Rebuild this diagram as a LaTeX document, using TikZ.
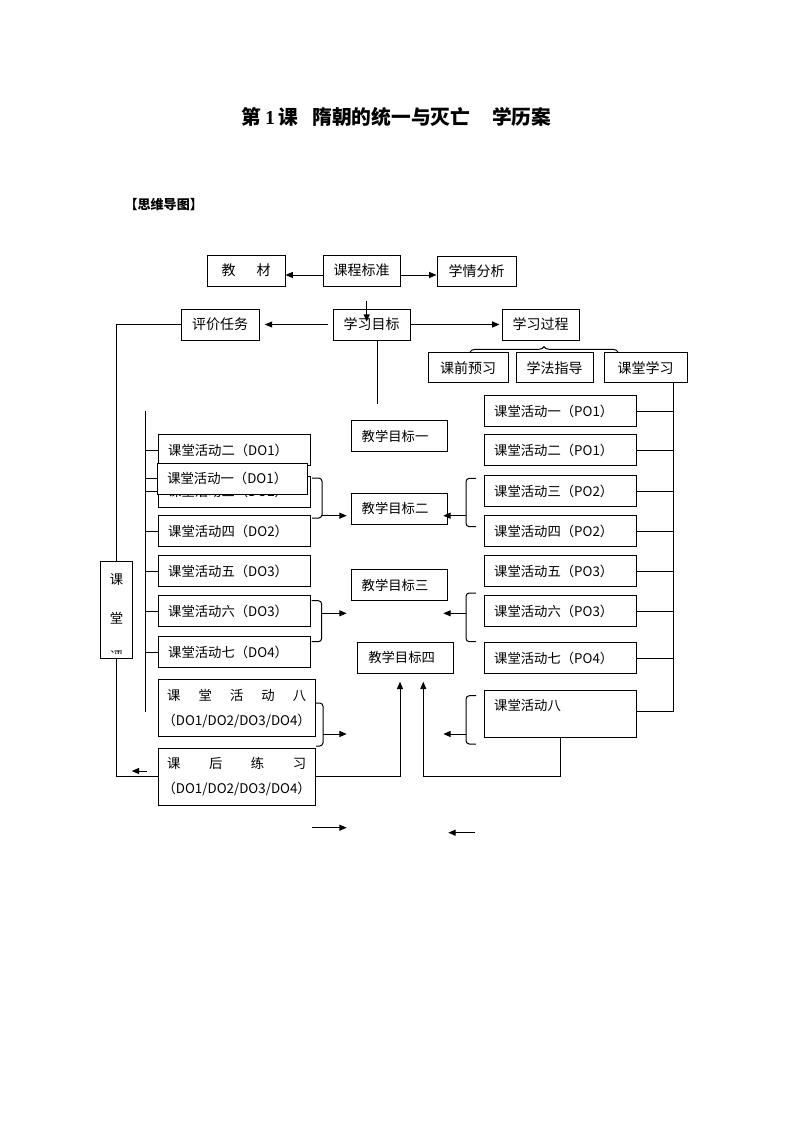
\documentclass[tikz,border=0pt]{standalone}
\usepackage{fontspec}
\newfontfamily\cjk{Noto Sans CJK SC}
\newfontfamily\serif{Liberation Serif}
\usetikzlibrary{arrows.meta,decorations.pathreplacing,calc}
\begin{document}
\begin{tikzpicture}[x=0.75pt,y=-0.75pt,
  line width=0.75pt,
  arr/.style={-{Triangle[length=5.5pt,width=4.5pt]}},
  tbox/.style={draw, fill=white, inner sep=0pt, minimum height=23.25pt, font=\cjk\fontsize{10.5}{12}\selectfont},
  abox/.style={draw, fill=white, inner xsep=7.5pt, inner ysep=0pt, text width=99pt, align=left, minimum height=23.25pt, font=\cjk\fontsize{10}{12}\selectfont},
  gbox/.style={draw, fill=white, inner xsep=7.5pt, inner ysep=0pt, text width=56.7pt, align=left, minimum height=23.25pt, font=\cjk\fontsize{10}{12}\selectfont},
  wbox/.style={draw, fill=white, inner xsep=6.75pt, inner ysep=0pt, text width=104.25pt, align=left, minimum height=42.75pt, font=\cjk\fontsize{10}{19}\selectfont},
  brk/.style={rounded corners=2.5pt},
  txt/.style={inner sep=0pt, font=\cjk\fontsize{10}{12}\selectfont}]
\useasboundingbox (0,0) rectangle (794,1123);

% titles
\node[inner sep=0pt, anchor=west, font=\cjk\bfseries\fontsize{14.8}{16}\selectfont] (title) at (241,117)
  {第\hspace{0.2em}{\serif\bfseries 1}\hspace{0.2em}课\hspace{0.7em}隋朝的统一与灭亡\hspace{1.1em}学历案};
\node[inner sep=0pt, anchor=west, font=\cjk\bfseries\fontsize{9.8}{11}\selectfont] (mind) at (124,205) {【思维导图】};

% top boxes
\node[tbox, minimum width=58.5pt] (jc) at (246,270.5) {教\hspace{1.5em}材};
\node[tbox, minimum width=57.75pt] (kcbz) at (361.5,270.5) {课程标准};
\node[tbox, minimum width=59.25pt, minimum height=22.5pt] (xqfx) at (476.5,271.5) {学情分析};
\node[tbox, minimum width=58.5pt] (pjrw) at (220,324.5) {评价任务};
\node[tbox, minimum width=57.75pt] (xxmb) at (371.5,324.5) {学习目标};
\node[tbox, minimum width=57.75pt] (xxgc) at (540.5,324.5) {学习过程};
\node[tbox, minimum width=60pt, minimum height=22.5pt] (kqyx) at (468,367.7) {课前预习};
\node[tbox, minimum width=57.75pt, minimum height=22.5pt] (xfzd) at (554.5,367.7) {学法指导};
\node[tbox, minimum width=62.25pt, minimum height=22.5pt] (ktxx) at (645.5,367.7) {课堂学习};

% top connectors
\draw[arr] ($(kcbz.west)+(0,4.5)$) -- ($(jc.east)+(0,4.5)$);
\draw[arr] ($(kcbz.east)+(0,4.5)$) -- ($(xqfx.west)+(0,3.5)$);
\coordinate (va) at (366.7,300.7);
\coordinate (vb) at (366.7,321.7);
\draw[arr] (va) -- (vb);
\draw[arr, shorten <=3.75pt, shorten >=4pt] (xxmb.west) -- (pjrw.east);
\draw[arr, shorten >=1.5pt] (xxmb.east) -- (xxgc.west);
\coordinate (xm) at (377.7,404);
\draw (xxmb.south -| xm) -- (xm);
\coordinate (bra) at (470,352);
\coordinate (brb) at (618,352);
\draw[decorate, decoration={brace, amplitude=4pt}] (bra) -- (brb);

% left ke box
\node[draw, minimum width=23.7pt, minimum height=72.45pt, inner sep=0pt] (ke) at (116.5,610) {};
\node[txt] (ke1) at (116.5,580) {课};
\node[txt] (ke2) at (116.5,618) {堂};
\begin{scope}
  \clip (102,562) rectangle (131,653.5);
  \node[txt] (ke3) at (116.5,657) {评};
\end{scope}
\draw (pjrw.west) -| (ke.north);

% left column
\coordinate (lvt) at (145.7,410.7);
\coordinate (lvb) at (145.7,711.7);
\draw (lvt) -- (lvb);
\node[abox] (L2) at (234.2,450) {课堂活动二（DO1）};
\node[abox] (L3) at (234.2,491.5) {课堂活动三（DO2）};
\foreach \n in {L2,L3} \draw (\n.west) -- (\n.west -| lvt);
\node[abox, text width=97.5pt] (L1) at (232.3,478.7) {课堂活动一（DO1）};
\node[abox] (L4) at (234.2,531) {课堂活动四（DO2）};
\node[abox] (L5) at (234.2,571) {课堂活动五（DO3）};
\node[abox] (L6) at (234.2,611) {课堂活动六（DO3）};
\node[abox] (L7) at (234.2,652) {课堂活动七（DO4）};
\foreach \n in {L1,L4,L5,L6,L7} \draw (\n.west) -- (\n.west -| lvt);
\node[wbox] (L8) at (236.7,708.3) {\makebox[104.25pt][s]{课\hfill 堂\hfill 活\hfill 动\hfill 八}\\\makebox[104.25pt][c]{（DO1/DO2/DO3/DO4）}};
\node[wbox] (HW) at (236.7,776.7) {\makebox[104.25pt][s]{课\hfill 后\hfill 练\hfill 习}\\\makebox[104.25pt][c]{（DO1/DO2/DO3/DO4）}};

% goal boxes
\node[gbox] (G1) at (399.5,436.2) {教学目标一};
\node[gbox] (G2) at (399.5,508.8) {教学目标二};
\node[gbox] (G3) at (399.5,585) {教学目标三};
\node[gbox, inner xsep=8.25pt, text width=55.5pt] (G4) at (405.3,657.8) {教学目标四};

% right column
\node[abox] (R1) at (560.2,411) {课堂活动一（PO1）};
\node[abox] (R2) at (560.2,450) {课堂活动二（PO1）};
\node[abox] (R3) at (560.2,491) {课堂活动三（PO2）};
\node[abox] (R4) at (560.2,531) {课堂活动四（PO2）};
\node[abox] (R5) at (560.2,571) {课堂活动五（PO3）};
\node[abox] (R6) at (560.2,611) {课堂活动六（PO3）};
\node[abox] (R7) at (560.2,658) {课堂活动七（PO4）};
\node[abox, minimum height=35pt] (R8) at (560.2,714) {课堂活动八\\[1.5pt]\mbox{}};
\coordinate (rv) at (673,0);
\coordinate (r8c) at (673,711);
\draw (ktxx.south -| rv) -- (r8c) -- (r8c -| R8.east);
\foreach \n in {R1,R2,R3,R4,R5,R6,R7} \draw (\n.east) -- (\n.east -| rv);

% left brackets and arrows
\coordinate (b1t) at (312,478);   \coordinate (b1b) at (312,518);
\draw[brk] (b1t) -- ++(10,0) |- (b1b);
\coordinate (a1s) at (322,515.7); \coordinate (a1e) at (346.7,515.7);
\draw[arr] (a1s) -- (a1e);
\coordinate (b2t) at (311.7,600.7); \coordinate (b2b) at (311.7,641.7);
\draw[brk] (b2t) -- ++(10,0) |- (b2b);
\coordinate (a2s) at (321.7,613.3); \coordinate (a2e) at (346.7,613.3);
\draw[arr] (a2s) -- (a2e);
\coordinate (b3t) at (316,703); \coordinate (b3b) at (316,746);
\draw[brk] (b3t) -- ++(7,0) |- (b3b);
\coordinate (a3s) at (323,734); \coordinate (a3e) at (346.7,734);
\draw[arr] (a3s) -- (a3e);

% right brackets and arrows
\coordinate (c1t) at (476,478.3); \coordinate (c1b) at (476,526.7);
\draw[brk] (c1t) -- ++(-10,0) |- (c1b);
\coordinate (d1s) at (466,515.7); \coordinate (d1e) at (443.3,515.7);
\draw[arr] (d1s) -- (d1e);
\coordinate (c2t) at (476,593); \coordinate (c2b) at (476,641.7);
\draw[brk] (c2t) -- ++(-10,0) |- (c2b);
\coordinate (d2s) at (466,613.3); \coordinate (d2e) at (443.3,613.3);
\draw[arr] (d2s) -- (d2e);
\coordinate (c3t) at (476,695.7); \coordinate (c3b) at (476,744);
\draw[brk] (c3t) -- ++(-10,0) |- (c3b);
\coordinate (d3s) at (466,734); \coordinate (d3e) at (443.3,734);
\draw[arr] (d3s) -- (d3e);

% bottom connectors
\coordinate (g4a) at (400,681.7);
\coordinate (g4b) at (423.3,681.7);
\draw[arr] (HW.east) -| (g4a);
\draw[arr] (R8.south) |- (g4b |- HW.east) -- (g4b);
\draw (HW.west) -| (ke.south);
\coordinate (ha) at (146.7,771); \coordinate (hb) at (131.7,771);
\draw[arr] (ha) -- (hb);

% loose arrows
\coordinate (la) at (311.7,827.7); \coordinate (lb) at (346.7,827.7);
\draw[arr] (la) -- (lb);
\coordinate (lc) at (475,832.7); \coordinate (ld) at (448.3,832.7);
\draw[arr] (lc) -- (ld);
\end{tikzpicture}
\end{document}
